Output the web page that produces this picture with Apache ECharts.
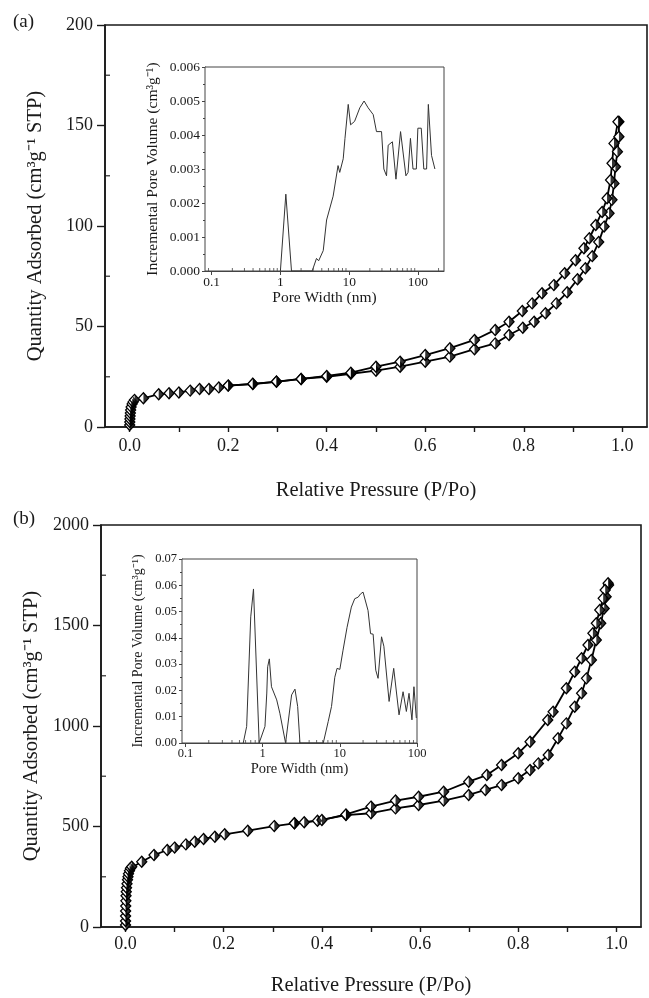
<!DOCTYPE html>
<html>
<head>
<meta charset="utf-8">
<script src="https://cdn.jsdelivr.net/npm/echarts@6/dist/echarts.min.js"></script>
<style>html,body{margin:0;padding:0;background:#fff}#c{width:649px;height:998px}</style>
</head>
<body>
<div id="c"></div>
<script>
// ---------- Panel (a) isotherm ----------
const aAdsP = [0.0001,0.0003,0.0006,0.001,0.0015,0.002,0.003,0.005,0.007,0.01,0.028,0.059,0.08,0.1,0.123,0.142,0.161,0.181,0.2,0.25,0.298,0.348,0.4,0.449,0.5,0.549,0.6,0.65,0.7,0.742,0.77,0.798,0.821,0.844,0.866,0.888,0.909,0.925,0.939,0.952,0.963,0.973,0.979,0.983,0.986,0.99,0.993,0.993];
const aAdsV = [1,2.5,4,5.5,7,8.5,10,11.5,12.5,13.5,14.3,16.3,16.8,17.2,18.1,18.9,18.9,19.7,20.6,21.4,22.5,23.9,25,26.5,28,30,32.5,35,38.7,41.6,45.8,49.4,52.4,56.6,61.5,67,73.5,79,85,92,99.7,106.3,113,121.2,129.5,137,144.4,151.9];
const aDesP = [0.991,0.983,0.979,0.976,0.969,0.959,0.946,0.933,0.922,0.905,0.883,0.861,0.837,0.817,0.797,0.77,0.742,0.7,0.65,0.6,0.549,0.5,0.449,0.4,0.348,0.298,0.25,0.2];
const aDesV = [151.9,141.1,131.2,122.9,113.8,107,100.5,93.9,88.9,83,76.5,70.6,66.5,61.5,57.7,52.4,48.3,43.3,39.2,35.8,32.5,30,27,25.4,23.9,22.6,21.5,20.6];

// ---------- Panel (a) inset: pore size distribution ----------
const aPoreW = [1.0,1.2,1.45,2.9,3.35,3.6,4.2,4.7,5.85,6.9,7.3,8.2,8.7,9.7,10.5,12,14.3,16.5,18.9,22.4,25,29.6,32,35,37,42.6,48,56,67,72,78,85,95,100,112,122,134,142,158,177];
const aPoreV = [0,0.00226,0,0,0.00037,0.0003,0.0006,0.0015,0.0022,0.0031,0.0029,0.0033,0.0039,0.0049,0.0043,0.0044,0.0048,0.0050,0.0048,0.0046,0.0041,0.0041,0.0030,0.0028,0.0037,0.0038,0.0027,0.0041,0.0028,0.0029,0.0039,0.0030,0.0030,0.0042,0.0042,0.0030,0.0030,0.0049,0.0034,0.0030];

// ---------- Panel (b) isotherm ----------
const bAdsP = [0.00002,0.00005,0.0001,0.0002,0.0004,0.0007,0.001,0.0015,0.002,0.003,0.004,0.005,0.006,0.008,0.01,0.0126,0.033,0.058,0.085,0.1,0.123,0.141,0.159,0.182,0.202,0.249,0.303,0.344,0.391,0.449,0.5,0.55,0.597,0.648,0.699,0.733,0.766,0.8,0.824,0.841,0.861,0.881,0.898,0.915,0.929,0.939,0.949,0.959,0.968,0.975,0.979,0.984];
const bAdsV = [10,30,55,80,105,130,155,175,195,215,235,250,265,280,292,300,325,358,383,395,411,424,438,449,461,479,502,516,529,557,566,590,607,629,657,682,706,740,781,814,856,939,1013,1096,1163,1237,1328,1428,1511,1585,1643,1701];
const bDesP = [0.983,0.977,0.973,0.966,0.959,0.952,0.942,0.929,0.915,0.898,0.871,0.86,0.824,0.8,0.766,0.736,0.699,0.648,0.597,0.55,0.5,0.449,0.4,0.364,0.344];
const bDesV = [1710,1677,1635,1577,1511,1461,1403,1337,1270,1188,1071,1030,922,864,806,756,723,673,648,629,599,560,532,521,516];

// ---------- Panel (b) inset ----------
const bPoreW = [0.56,0.62,0.70,0.76,0.9,0.95,1.07,1.13,1.16,1.22,1.3,1.52,1.67,1.98,2.37,2.62,2.84,3.04,6.1,7.07,7.8,8.6,9.2,10,11,12.4,14.1,15.6,17.3,18.5,20,21,23.2,25,27,29.2,31.3,34.7,37.2,43.5,49.9,58.5,66,72.8,78.8,86,91.3,98];
const bPoreV = [0,0.0063,0.048,0.0586,0,0,0.0063,0.019,0.029,0.032,0.0214,0.0164,0.0113,0,0.0183,0.0205,0.0139,0,0,0.0082,0.0139,0.025,0.0284,0.028,0.0353,0.044,0.0517,0.0549,0.0555,0.0567,0.0574,0.057,0.0504,0.0416,0.0414,0.0277,0.0246,0.0404,0.0368,0.0158,0.0284,0.0107,0.0195,0.012,0.0189,0.0088,0.0214,0.0095];

// ---------- tick labels ----------
const mainXTicks = [0,0.1,0.2,0.3,0.4,0.5,0.6,0.7,0.8,0.9,1.0];
const mainXLabels = [0,0.2,0.4,0.6,0.8,1.0];
const aMinorY = [25,75,125,175];
const bMinorY = [250,750,1250,1750];
const logMinorA = [0.09];
const logMinorB = [];
[0.1,1,10,100].forEach(d => { for (let k=2;k<=9;k++){ const v=+(d*k).toPrecision(2); if (v<240) logMinorA.push(v); if (v<100) logMinorB.push(v);} });

const FONT = '"Liberation Serif","Times New Roman",Times,serif';
const INK = '#1a1a1a';

function zip(x, y){ return x.map((v,i)=>[v, y[i]]); }

function isoSeries(idx, P, V){
  const d = zip(P, V);
  return [
    { type:'line', xAxisIndex:idx, yAxisIndex:idx, data:d, symbol:'diamond', symbolSize:[10,11],
      lineStyle:{color:'#000', width:1.8}, itemStyle:{color:'#fff', borderColor:'#000', borderWidth:1.3},
      z:3, animation:false, clip:false },
    { type:'scatter', xAxisIndex:idx, yAxisIndex:idx, data:d, symbol:'path://M0,0L1,1L0,2Z',
      symbolSize:[5,11], symbolOffset:[2.5,0], itemStyle:{color:'#000'}, z:4, animation:false, silent:true }
  ];
}
function minorYSeries(idx, xmin, vals){
  return { type:'scatter', xAxisIndex:idx, yAxisIndex:idx, data: vals.map(v=>[xmin, v]), symbol:'rect',
    symbolSize:[5,1.4], symbolOffset:[2.5,0], itemStyle:{color:INK}, silent:true, animation:false, z:5 };
}
function minorLogSeries(idx, vals){
  return { type:'scatter', xAxisIndex:idx, yAxisIndex:idx, data: vals.map(v=>[v, 0]), symbol:'rect',
    symbolSize:[1,3], symbolOffset:[0,-1.5], itemStyle:{color:'#444'}, silent:true, animation:false, z:15, clip:false };
}
function poreSeries(idx, W, V){
  return { type:'line', xAxisIndex:idx, yAxisIndex:idx, data: zip(W, V), symbol:'none',
    lineStyle:{color:'#333', width:1}, z:14, animation:false };
}

function mainX(idx, nameGap, labelMargin){
  return { type:'value', gridIndex:idx, min:-0.05, max:1.05,
    name:'Relative Pressure (P/Po)', nameLocation:'middle', nameGap:nameGap,
    nameTextStyle:{fontFamily:FONT, fontSize:20.5, color:INK},
    axisLine:{onZero:false, lineStyle:{color:INK, width:1.6}},
    axisTick:{customValues:mainXTicks, length:5, lineStyle:{color:INK, width:1.4}},
    axisLabel:{customValues:mainXLabels, formatter:v=>v.toFixed(1), fontFamily:FONT, fontSize:18, color:INK, margin:labelMargin},
    splitLine:{show:false} };
}
function mainY(idx, max, interval, nameGap){
  return { type:'value', gridIndex:idx, min:0, max:max, interval:interval,
    name:'Quantity Adsorbed (cm³g⁻¹ STP)', nameLocation:'middle', nameGap:nameGap,
    nameTextStyle:{fontFamily:FONT, fontSize:20.5, color:INK},
    axisLine:{onZero:false, lineStyle:{color:INK, width:1.6}},
    axisTick:{length:8, lineStyle:{color:INK, width:1.4}},
    axisLabel:{fontFamily:FONT, fontSize:18, color:INK, margin:12, formatter:v=>String(v)},
    splitLine:{show:false} };
}
function insetX(idx, min, max, nameGap, fs, nfs, showMax){
  return { type:'log', logBase:10, gridIndex:idx, min:min, max:max,
    name:'Pore Width (nm)', nameLocation:'middle', nameGap:nameGap,
    nameTextStyle:{fontFamily:FONT, fontSize:nfs, color:INK},
    axisLine:{onZero:false, lineStyle:{color:'#444', width:1}},
    axisTick:{length:4, lineStyle:{color:'#444'}},
    axisLabel:{showMinLabel:false, showMaxLabel:showMax, fontFamily:FONT, fontSize:fs, color:INK, margin:4,
      formatter:v=> v<1 ? (+v).toFixed(1) : String(Math.round(v))},
    splitLine:{show:false} };
}
function insetY(idx, max, interval, digits, nameGap, fs, nfs){
  return { type:'value', gridIndex:idx, min:0, max:max, interval:interval,
    name:'Incremental Pore Volume (cm³g⁻¹)', nameLocation:'middle', nameGap:nameGap,
    nameTextStyle:{fontFamily:FONT, fontSize:nfs, color:INK},
    axisLine:{onZero:false, lineStyle:{color:'#444', width:1}},
    axisTick:{length:3, lineStyle:{color:'#444'}},
    minorTick:{show:true, splitNumber:2, length:2, lineStyle:{color:'#444'}},
    axisLabel:{fontFamily:FONT, fontSize:fs, color:INK, margin:5, formatter:v=>v.toFixed(digits)},
    splitLine:{show:false} };
}

const option = {
  backgroundColor:'#fff',
  animation:false,
  grid:[
    {left:105, top:25, width:542, height:402, show:true, borderColor:INK, borderWidth:1.6, backgroundColor:'transparent'},
    {left:205, top:67, width:239, height:204, show:true, borderColor:'#444', borderWidth:1, backgroundColor:'#fff', z:1},
    {left:101, top:525, width:540, height:402, show:true, borderColor:INK, borderWidth:1.6, backgroundColor:'transparent'},
    {left:182, top:559, width:235, height:184, show:true, borderColor:'#444', borderWidth:1, backgroundColor:'#fff', z:1}
  ],
  xAxis:[
    mainX(0, 53, 10),
    insetX(1, 0.08, 240, 15, 13.5, 15.5, false),
    mainX(2, 48, 8),
    insetX(3, 0.09, 100, 19, 12.5, 14.5, true)
  ],
  yAxis:[
    mainY(0, 200, 50, 59),
    insetY(1, 0.006, 0.001, 3, 44, 13.5, 15.5),
    mainY(2, 2000, 500, 55),
    insetY(3, 0.07, 0.01, 2, 37, 12.5, 14)
  ],
  graphic:[
    {type:'text', left:13, top:13, style:{text:'(a)', fontFamily:FONT, fontSize:19, fill:INK}},
    {type:'text', left:13, top:510, style:{text:'(b)', fontFamily:FONT, fontSize:19, fill:INK}}
  ],
  series:[
    ...isoSeries(0, aAdsP, aAdsV),
    ...isoSeries(0, aDesP, aDesV),
    minorYSeries(0, -0.05, aMinorY),
    poreSeries(1, aPoreW, aPoreV),
    minorLogSeries(1, logMinorA),
    ...isoSeries(2, bAdsP, bAdsV),
    ...isoSeries(2, bDesP, bDesV),
    minorYSeries(2, -0.05, bMinorY),
    poreSeries(3, bPoreW, bPoreV),
    minorLogSeries(3, logMinorB)
  ]
};
const chart = echarts.init(document.getElementById('c'), null, {renderer:'canvas'});
chart.setOption(option);
</script>
</body>
</html>
